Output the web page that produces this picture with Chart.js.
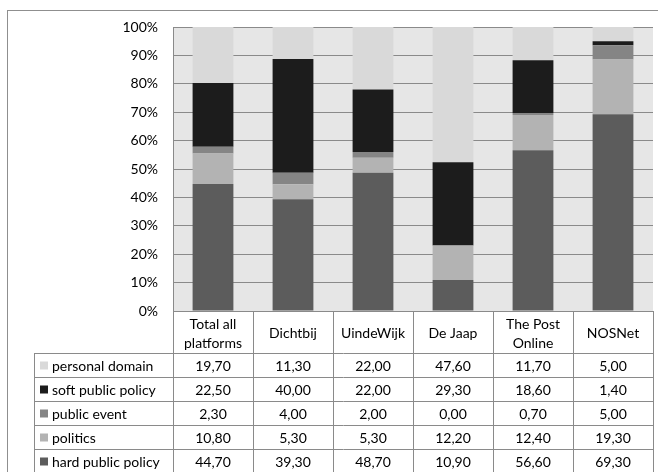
<!DOCTYPE html>
<html>
<head>
<meta charset="utf-8">
<script src="https://cdn.jsdelivr.net/npm/chart.js@4.4.0/dist/chart.umd.min.js"></script>
<style>
  html, body { margin: 0; padding: 0; background: #fff; }
  #wrap { width: 658px; height: 472px; position: relative; }
</style>
</head>
<body>
<div id="wrap"><canvas id="chart"></canvas></div>
<script>
// categories (header of the data table)
const platforms = [['Total all', 'platforms'], ['Dichtbij'], ['UindeWijk'], ['De Jaap'], ['The Post', 'Online'], ['NOSNet']];

// series, as printed in the data table (percent)
const personalDomain   = [19.7, 11.3, 22.0, 47.6, 11.7, 5.0];
const softPublicPolicy = [22.5, 40.0, 22.0, 29.3, 18.6, 1.4];
const publicEvent      = [2.3, 4.0, 2.0, 0.0, 0.7, 5.0];
const politics         = [10.8, 5.3, 5.3, 12.2, 12.4, 19.3];
const hardPublicPolicy = [44.7, 39.3, 48.7, 10.9, 56.6, 69.3];

const yTicks = [0, 10, 20, 30, 40, 50, 60, 70, 80, 90, 100];

const FONT = 'Lato';
const GRID = '#8a8a8a';

// bottom to top in the stack
const series = [
    { label: 'hard public policy', values: hardPublicPolicy, color: '#5c5c5c' },
    { label: 'politics', values: politics, color: '#b3b3b3' },
    { label: 'public event', values: publicEvent, color: '#858585' },
    { label: 'soft public policy', values: softPublicPolicy, color: '#1c1c1c' },
    { label: 'personal domain', values: personalDomain, color: '#d9d9d9' }
];

// 100% stacked: scale each column to its own total
const totals = platforms.map((p, i) => series.reduce((s, d) => s + d.values[i], 0));

const datasets = series.map(s => ({
    label: s.label,
    data: s.values.map((v, i) => v / totals[i] * 100),
    backgroundColor: s.color,
    borderWidth: 0,
    categoryPercentage: 1,
    barPercentage: 0.51
}));

const fmt = v => v.toFixed(2).replace('.', ',');

const frame = {
    id: 'frame',
    beforeDraw(chart) {
        const { ctx, chartArea } = chart;
        ctx.save();
        ctx.fillStyle = '#e6e6e6';
        ctx.fillRect(chartArea.left, chartArea.top, chartArea.right - chartArea.left, chartArea.bottom - chartArea.top);
        ctx.strokeStyle = '#8f8f8f';
        ctx.lineWidth = 1;
        ctx.strokeRect(7.5, 10.5, 700, 500);
        ctx.restore();
    }
};

const dataTable = {
    id: 'dataTable',
    afterDraw(chart) {
        const { ctx, chartArea } = chart;
        const x = chart.scales.x;
        const colW = (chartArea.right - chartArea.left) / platforms.length;
        const top = Math.round(chartArea.bottom);
        const headH = 42, rowH = 24;
        const legendLeft = 34;
        const rows = series.slice().reverse();
        const bottom = top + headH + rowH * rows.length;

        ctx.save();
        ctx.strokeStyle = GRID;
        ctx.lineWidth = 1;
        ctx.beginPath();
        // vertical lines of the value columns
        for (let i = 0; i <= platforms.length; i++) {
            const px = Math.round(chartArea.left + i * colW) + 0.5;
            ctx.moveTo(px, top);
            ctx.lineTo(px, bottom);
        }
        // legend column left edge
        ctx.moveTo(legendLeft + 0.5, top + headH);
        ctx.lineTo(legendLeft + 0.5, bottom);
        // horizontal lines
        for (let r = 0; r <= rows.length; r++) {
            const py = top + headH + r * rowH + 0.5;
            ctx.moveTo(legendLeft, py);
            ctx.lineTo(chartArea.right, py);
        }
        ctx.stroke();

        ctx.fillStyle = '#000';
        ctx.font = '14px ' + FONT;
        ctx.textBaseline = 'middle';
        ctx.textAlign = 'center';

        // header
        platforms.forEach((p, i) => {
            const cx = x.getPixelForValue(i);
            const cy = top + headH / 2 + 1;
            if (p.length === 1) {
                ctx.fillText(p[0], cx, cy);
            } else {
                ctx.fillText(p[0], cx, cy - 9);
                ctx.fillText(p[1], cx, cy + 10);
            }
        });

        // rows
        rows.forEach((s, r) => {
            const cy = top + headH + r * rowH + rowH / 2 + 1;
            ctx.fillStyle = s.color;
            ctx.fillRect(legendLeft + 6, cy - 4.5, 8, 8);
            ctx.fillStyle = '#000';
            ctx.textAlign = 'left';
            ctx.fillText(s.label, legendLeft + 18, cy);
            ctx.textAlign = 'center';
            s.values.forEach((v, i) => {
                ctx.fillText(fmt(v), x.getPixelForValue(i), cy);
            });
        });
        ctx.restore();
    }
};

new Chart(document.getElementById('chart'), {
    type: 'bar',
    data: {
        labels: platforms,
        datasets: datasets
    },
    options: {
        responsive: true,
        maintainAspectRatio: false,
        animation: false,
        layout: { padding: { left: 0, right: 5, top: 27, bottom: 161 } },
        plugins: {
            legend: { display: false },
            tooltip: { enabled: false }
        },
        scales: {
            x: {
                stacked: true,
                display: false
            },
            y: {
                stacked: true,
                min: 0,
                max: 100,
                afterFit(scale) { scale.width = 173; },
                afterBuildTicks(scale) { scale.ticks = yTicks.map(v => ({ value: v })); },
                ticks: {
                    padding: 15,
                    color: '#000',
                    font: { family: FONT, size: 14 },
                    callback: v => v + '%'
                },
                grid: { color: GRID, lineWidth: 1, drawTicks: false },
                border: { display: true, color: GRID }
            }
        }
    },
    plugins: [frame, dataTable]
});
</script>
</body>
</html>
